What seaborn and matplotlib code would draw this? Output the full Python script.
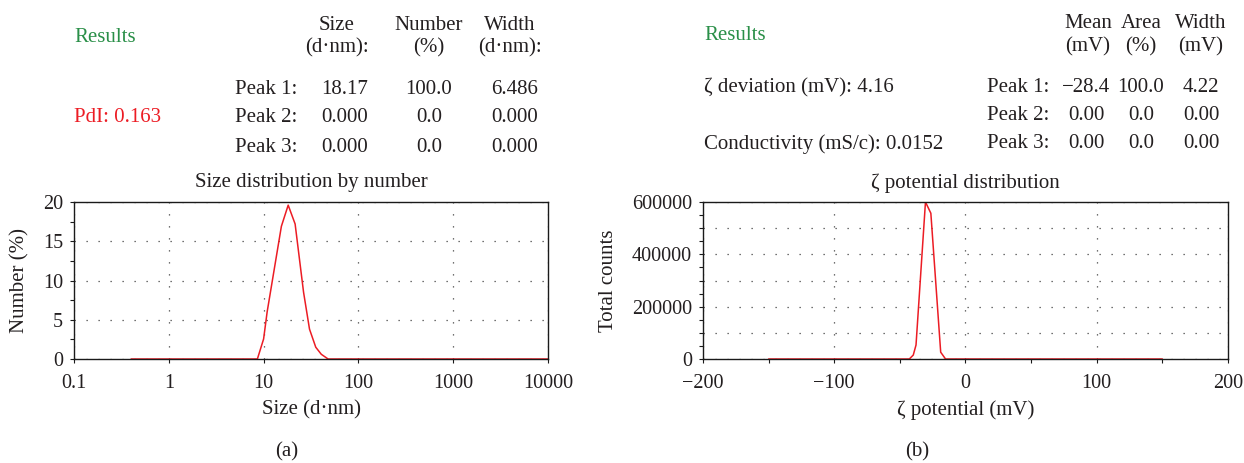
import matplotlib
matplotlib.use("Agg")
import matplotlib.pyplot as plt
import matplotlib.ticker as mticker
import seaborn as sns
import pandas as pd

# Size distribution by number (DLS)
size_nm = [0.4, 8.6, 10.0, 10.9, 15.4, 18.17, 21.5, 26.4, 30.5, 35.5, 40.6, 47.9, 10000]
number_pct = [0, 0, 2.55, 6.0, 16.9, 19.6, 17.2, 8.5, 3.8, 1.5, 0.6, 0, 0]

# Zeta potential distribution
zeta_mv = [-150, -42.8, -39.8, -37.7, -30.5, -26.4, -18.9, -15.2, 150]
total_counts = [0, 0, 15000, 53500, 600000, 557000, 26000, 0, 0]

size_ticks = [0.1, 1, 10, 100, 1000, 10000]
size_tick_labels = ["0.1", "1", "10", "100", "1000", "10000"]

size_header = ["Size\n(d·nm):", "Number\n(%)", "Width\n(d·nm):"]
size_rows = [["Peak 1:", "18.17", "100.0", "6.486"],
             ["Peak 2:", "0.000", "0.0", "0.000"],
             ["Peak 3:", "0.000", "0.0", "0.000"]]

zeta_header = ["Mean\n(mV)", "Area\n(%)", "Width\n(mV)"]
zeta_rows = [["Peak 1:", "\u221228.4", "100.0", "4.22"],
             ["Peak 2:", "0.00", "0.0", "0.00"],
             ["Peak 3:", "0.00", "0.0", "0.00"]]

sns.set_theme(style="white")
plt.rcParams["font.family"] = ["Liberation Serif", "DejaVu Serif"]

W, H = 1244, 463
FS = 15
TICK_FS = 14.5
TXT = "#231f20"
GREEN = "#2a8f48"
RED = "#ec1c24"

fig = plt.figure(figsize=(W / 100, H / 100), dpi=100)


def px(x, y):
    return x / W, 1 - y / H


def ftext(x, y, s, ha="left", color=TXT, size=FS, **kw):
    fx, fy = px(x, y)
    fig.text(fx, fy, s, ha=ha, va="center", color=color, fontsize=size, **kw)


def axes_px(x0, x1, y0, y1):
    return fig.add_axes([x0 / W, 1 - y1 / H, (x1 - x0) / W, (y1 - y0) / H])


def style_axes(ax):
    for sp in ax.spines.values():
        sp.set_visible(True)
        sp.set_color("#1a1a1a")
        sp.set_linewidth(1.0)
    ax.tick_params(which="both", direction="out", length=3, width=0.8,
                   color="#1a1a1a", labelsize=TICK_FS, labelcolor=TXT,
                   bottom=True, left=True, top=False, right=False)
    ax.tick_params(axis="x", which="both", pad=8)
    ax.tick_params(axis="y", which="both", pad=5)
    ax.grid(True, which="major", color="#444444", linewidth=0.9,
            linestyle=(0, (1, 8.6)))
    ax.set_axisbelow(True)


# ---------- panel (a) ----------
ax1 = axes_px(74, 548, 202, 359)
df1 = pd.DataFrame({"size": size_nm, "number": number_pct})
sns.lineplot(data=df1, x="size", y="number", ax=ax1, color=RED, linewidth=1.1,
             sort=False, estimator=None)
ax1.set_xscale("log")
ax1.set_xlim(0.1, 10000)
ax1.set_ylim(0, 20)
ax1.set_xticks(size_ticks)
ax1.set_xticklabels(size_tick_labels)
ax1.xaxis.set_minor_locator(mticker.NullLocator())
ax1.set_yticks([0, 5, 10, 15, 20])
ax1.yaxis.set_minor_locator(mticker.MultipleLocator(2.5))
style_axes(ax1)
ax1.set_xlabel("Size (d·nm)", fontsize=FS, color=TXT)
ax1.set_ylabel("Number (%)", fontsize=FS, color=TXT)
ax1.xaxis.set_label_coords(0.5, (359 - 400) / 157)
ax1.yaxis.set_label_coords((29 - 74) / 474, 0.5)
ax1.text(0.5, 1 + (202 - 183) / 157, "Size distribution by number",
         transform=ax1.transAxes, ha="center", va="center", fontsize=FS, color=TXT)

# ---------- panel (b) ----------
ax2 = axes_px(703, 1228, 202, 359)
df2 = pd.DataFrame({"zeta": zeta_mv, "counts": total_counts})
sns.lineplot(data=df2, x="zeta", y="counts", ax=ax2, color=RED, linewidth=1.1,
             sort=False, estimator=None)
ax2.set_xlim(-200, 200)
ax2.set_ylim(0, 600000)
ax2.xaxis.set_major_locator(mticker.MultipleLocator(100))
ax2.xaxis.set_minor_locator(mticker.MultipleLocator(50))
ax2.set_yticks(range(0, 600001, 100000))
ax2.set_yticklabels([f"{v}" if v % 200000 == 0 else "" for v in range(0, 600001, 100000)])
ax2.yaxis.set_minor_locator(mticker.MultipleLocator(50000))
style_axes(ax2)
ax2.set_xlabel("\u03b6 potential (mV)", fontsize=FS, color=TXT)
ax2.set_ylabel("Total counts", fontsize=FS, color=TXT)
ax2.xaxis.set_label_coords(0.5, (359 - 400) / 157)
ax2.yaxis.set_label_coords((618 - 703) / 525, 0.5)
ax2.text(0.5, 1 + (202 - 183) / 157, "\u03b6 potential distribution",
         transform=ax2.transAxes, ha="center", va="center", fontsize=FS, color=TXT)

# ---------- results tables ----------
ftext(74, 37, "Results", color=GREEN)
ftext(74, 117, "PdI: 0.163", color=RED)
for cx, h in zip([337, 429, 510], size_header):
    top, bot = h.split("\n")
    ftext(cx, 26, top, ha="center")
    ftext(cx, 48, bot, ha="center")
for ry, row in zip([90, 118, 148], size_rows):
    ftext(235, ry, row[0])
    for cx, v in zip([345, 429, 515], row[1:]):
        ftext(cx, ry, v, ha="center")

ftext(704, 36, "Results", color=GREEN)
ftext(704, 88, "\u03b6 deviation (mV): 4.16")
ftext(704, 144, "Conductivity (mS/c): 0.0152")
for cx, h in zip([1088, 1141, 1201], zeta_header):
    top, bot = h.split("\n")
    ftext(cx, 23, top, ha="center")
    ftext(cx, 47, bot, ha="center")
for ry, row in zip([88, 116, 144], zeta_rows):
    ftext(987, ry, row[0])
    for cx, v in zip([1086, 1141, 1201], row[1:]):
        ftext(cx, ry, v, ha="center")

ftext(287, 452, "(a)", ha="center")
ftext(917, 452, "(b)", ha="center")

fig.savefig("out.png", dpi=100)
